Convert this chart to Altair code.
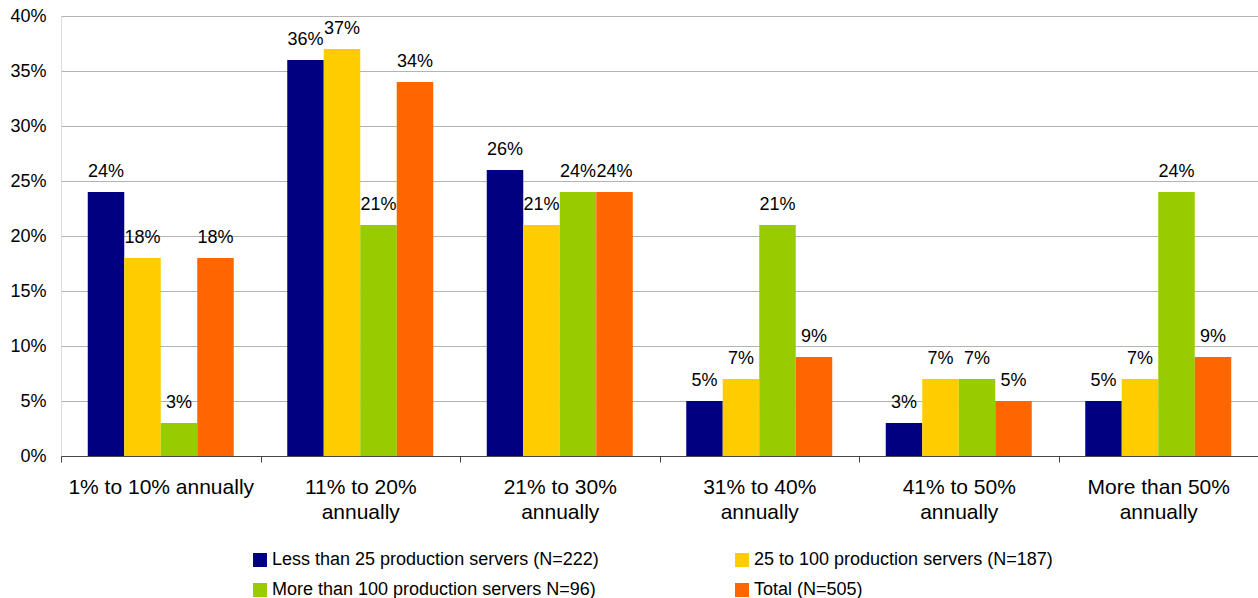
import altair as alt
import pandas as pd

categories = ["1% to 10% annually", "11% to 20%|annually", "21% to 30%|annually",
              "31% to 40%|annually", "41% to 50%|annually", "More than 50%|annually"]
series = ["Less than 25 production servers (N=222)", "25 to 100 production servers (N=187)",
          "More than 100 production servers N=96)", "Total (N=505)"]
less_than_25 = [24, 36, 26, 5, 3, 5]
from_25_to_100 = [18, 37, 21, 7, 7, 7]
more_than_100 = [3, 21, 24, 21, 7, 24]
total = [18, 34, 24, 9, 5, 9]
colors = ["#000080", "#FFCC00", "#99CC00", "#FF6600"]

rows = []
for s, vals in zip(series, [less_than_25, from_25_to_100, more_than_100, total]):
    for c, v in zip(categories, vals):
        rows.append({"category": c, "series": s, "value": v, "label": f"{v}%"})
df = pd.DataFrame(rows)

# legend lays entries out column by column: order so rows read as in the reference
legend_order = [series[0], series[2], series[1], series[3]]
legend_colors = [colors[0], colors[2], colors[1], colors[3]]

FONT = "Liberation Sans"

x = alt.X("category:N", sort=categories,
          scale=alt.Scale(paddingInner=0, paddingOuter=0),
          axis=alt.Axis(title=None, labelAngle=0, labelExpr="split(datum.label, '|')",
                        labelFont=FONT, labelFontSize=21, labelLineHeight=25,
                        labelPadding=14, labelColor="#000000", labelLimit=400,
                        tickBand="extent", tickSize=6, tickColor="#444444",
                        domainColor="#444444", grid=False))
xo = alt.XOffset("series:N", sort=series,
                 scale=alt.Scale(paddingInner=0, paddingOuter=0.733))
y = alt.Y("value:Q", scale=alt.Scale(domain=[0, 40]),
          axis=alt.Axis(title=None, values=list(range(0, 41, 5)),
                        labelExpr="datum.value + '%'", domain=False, ticks=False,
                        labelFont=FONT, labelFontSize=18, labelColor="#000000",
                        labelPadding=15, gridColor="#b3b3b3", gridWidth=1))
color = alt.Color("series:N",
                  scale=alt.Scale(domain=legend_order, range=legend_colors),
                  legend=alt.Legend(title=None, orient="none", legendX=190, legendY=535,
                                    columns=2, symbolType="square", symbolSize=196,
                                    symbolStrokeWidth=0, labelFont=FONT, labelFontSize=18,
                                    labelColor="#000000", labelOffset=3, labelLimit=600,
                                    columnPadding=134, rowPadding=12, padding=0))

bars = alt.Chart(df).mark_bar().encode(x=x, xOffset=xo, y=y, color=color)
texts = alt.Chart(df).mark_text(dy=-15, baseline="alphabetic", fontSize=18,
                                font=FONT, color="#000000").encode(
    x=x, xOffset=xo, y=y, text="label:N")

chart = (bars + texts).properties(
    width=1197, height=440,
    autosize=alt.AutoSizeParams(type="none"),
    padding={"left": 61, "top": 16, "right": 0, "bottom": 142},
).configure_view(stroke=None).configure(background="#ffffff")

chart.save("out.html", embed_options={"renderer": "svg", "actions": False})
